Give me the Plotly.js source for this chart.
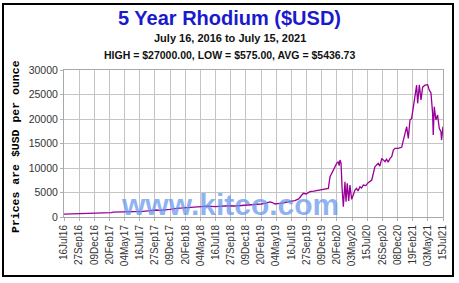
<!DOCTYPE html>
<html>
<head>
<meta charset="utf-8">
<script src="https://cdn.plot.ly/plotly-3.0.1.min.js"></script>
<style>
html,body{margin:0;padding:0;background:#fff;}
#chart{width:459px;height:283px;}
</style>
</head>
<body>
<div id="chart"></div>
<script>
// ---- data ----
const priceDates = [
'2016-07-16','2016-08-10','2016-09-07','2016-10-05','2016-10-25','2016-11-05','2016-11-20','2016-12-03','2016-12-20',
'2017-01-10','2017-02-07','2017-03-01','2017-03-10','2017-04-05','2017-05-14','2017-06-15','2017-07-31','2017-08-25',
'2017-09-20','2017-10-05','2017-10-20','2017-11-05','2017-12-08','2018-01-10','2018-02-10','2018-03-10','2018-04-08',
'2018-05-10','2018-06-10','2018-07-13','2018-08-15','2018-09-15','2018-10-17','2018-11-20','2018-12-20','2019-01-22',
'2019-02-20','2019-03-11','2019-04-04','2019-04-15','2019-04-28','2019-05-20','2019-06-15','2019-07-10','2019-08-02',
'2019-08-20','2019-09-04','2019-09-11','2019-09-25','2019-10-13','2019-11-01','2019-11-15','2019-12-01','2019-12-20',
'2020-01-10','2020-01-18','2020-02-03','2020-02-19','2020-02-27','2020-03-02','2020-03-06','2020-03-11','2020-03-16',
'2020-03-22','2020-03-30','2020-04-04','2020-04-10','2020-04-17','2020-04-23','2020-05-01','2020-05-09','2020-05-17',
'2020-05-25','2020-06-01','2020-06-10','2020-06-18','2020-06-26','2020-07-08','2020-07-20','2020-08-06','2020-08-21',
'2020-09-06','2020-09-14','2020-09-23','2020-10-09','2020-10-16','2020-10-24','2020-11-02','2020-11-10','2020-11-18',
'2020-11-26','2020-12-10','2020-12-28','2021-01-13','2021-01-21','2021-01-29','2021-02-06','2021-02-14','2021-02-22',
'2021-03-02','2021-03-10','2021-03-15','2021-03-23','2021-03-31','2021-04-08','2021-04-19','2021-05-02','2021-05-10',
'2021-05-18','2021-05-26','2021-05-29','2021-06-03','2021-06-11','2021-06-19','2021-06-27','2021-07-05','2021-07-08',
'2021-07-15'
];
const priceValues = [
575,600,610,680,760,700,740,700,760,
800,820,900,1000,1000,1050,1080,1150,1250,
1450,1430,1350,1400,1570,1770,1850,1950,1980,
2050,2200,2100,2250,2300,2240,2350,2400,2450,
2650,2800,3100,2950,2650,2800,2920,3200,3330,
3700,4490,4830,4700,5170,5300,5400,5500,5700,
5850,8220,9590,10950,11290,10500,11630,11000,6000,
2100,7200,3120,6900,3300,6500,3600,4490,5500,
5850,5300,6180,5900,6530,6400,7000,7550,10260,
10950,10400,11970,11300,11800,11200,11970,12300,13670,
14000,14000,14220,17070,18430,16050,19790,20130,22500,
24900,26900,23200,27000,23900,26500,26900,27000,25900,
25300,21150,16730,22500,19790,20800,18090,17400,15700,
18430
];
const tickDates = ['2016-07-16','2016-09-27','2016-12-09','2017-02-20','2017-05-04','2017-07-16','2017-09-27','2017-12-09',
'2018-02-20','2018-05-04','2018-07-16','2018-09-27','2018-12-09','2019-02-20','2019-05-04','2019-07-16','2019-09-27',
'2019-12-09','2020-02-20','2020-05-03','2020-07-15','2020-09-26','2020-12-08','2021-02-19','2021-05-03','2021-07-15'];
const tickLabels = ['16Jul16','27Sep16','09Dec16','20Feb17','04May17','16Jul17','27Sep17','09Dec17','20Feb18','04May18',
'16Jul18','27Sep18','09Dec18','20Feb19','04May19','16Jul19','27Sep19','09Dec19','20Feb20','03May20','15Jul20',
'26Sep20','08Dec20','19Feb21','03May21','15Jul21'];
const yTicks = [0,5000,10000,15000,20000,25000,30000];

const chartTitle = '5 Year Rhodium ($USD)';
const subTitle1 = 'July 16, 2016 to July 15, 2021';
const subTitle2 = 'HIGH = $27000.00, LOW = $575.00, AVG = $5436.73';
const yTitle = 'Prices are $USD per ounce';
const watermark = 'www.kitco.com';

// ---- layout ----
const W = 459, H = 283;
const M = {l:64, r:16, t:70, b:66};
const pw = W - M.l - M.r, ph = H - M.t - M.b;
const cx = (229.5 - M.l) / pw;   // centre of the whole image, in paper units

const trace = {
  x: priceDates, y: priceValues, type: 'scatter', mode: 'lines',
  line: {color: '#990099', width: 1.3}, hoverinfo: 'x+y'
};

const layout = {
  width: W, height: H,
  margin: M,
  paper_bgcolor: '#ffffff', plot_bgcolor: '#ffffff',
  showlegend: false,
  title: {
    text: chartTitle, x: 0.5, xref: 'container', xanchor: 'center',
    y: 1 - 18/H, yref: 'container', yanchor: 'middle',
    font: {family: 'Liberation Sans, Arial, sans-serif', size: 20, color: '#1a1acc', weight: 'bold'}
  },
  xaxis: {
    type: 'date', range: ['2016-07-16','2021-07-15'],
    tickmode: 'array', tickvals: tickDates, ticktext: tickLabels,
    tickangle: -90, ticks: 'outside', ticklen: 3, tickcolor: '#b0b0b0',
    tickfont: {family: 'Liberation Sans, Arial, sans-serif', size: 10, color: '#333333'},
    showgrid: true, gridcolor: '#c4c4c4', gridwidth: 1,
    showline: true, linecolor: '#a8a8a8', linewidth: 1, mirror: true,
    zeroline: false, fixedrange: true
  },
  yaxis: {
    range: [0, 30000], tickmode: 'array', tickvals: yTicks,
    ticktext: yTicks.map(String),
    ticks: 'outside', ticklen: 3, tickcolor: '#b0b0b0',
    tickfont: {family: 'Liberation Sans, Arial, sans-serif', size: 10.5, color: '#333333'},
    showgrid: true, gridcolor: '#c4c4c4', gridwidth: 1,
    showline: true, linecolor: '#a8a8a8', linewidth: 1, mirror: true,
    zeroline: false, fixedrange: true
  },
  annotations: [
    {text: subTitle1, xref: 'paper', yref: 'paper', x: cx, y: 1 + (M.t - 38)/ph,
     xanchor: 'center', yanchor: 'middle', showarrow: false,
     font: {family: 'Liberation Sans, Arial, sans-serif', size: 11, color: '#111111', weight: 'bold'}},
    {text: subTitle2, xref: 'paper', yref: 'paper', x: cx, y: 1 + (M.t - 55)/ph,
     xanchor: 'center', yanchor: 'middle', showarrow: false,
     font: {family: 'Liberation Sans, Arial, sans-serif', size: 10.5, color: '#111111', weight: 'bold'}},
    {text: yTitle, xref: 'paper', yref: 'paper', x: (15 - M.l)/pw, y: 1 - (147 - M.t)/ph,
     xanchor: 'center', yanchor: 'middle', textangle: -90, showarrow: false,
     font: {family: 'Liberation Mono, DejaVu Sans Mono, monospace', size: 11.5, color: '#000000', weight: 'bold'}},
    {text: watermark, xref: 'paper', yref: 'paper', x: (230 - M.l)/pw, y: 0,
     xanchor: 'center', yanchor: 'bottom', yshift: -6, showarrow: false,
     font: {family: 'Liberation Sans, Arial, sans-serif', size: 30, color: 'rgba(100,150,238,0.72)', weight: 'bold'}}
  ],
  shapes: [
    {type: 'rect', xref: 'paper', yref: 'paper',
     x0: (3 - M.l)/pw, x1: (453 - M.l)/pw, y0: 1 - (276 - M.t)/ph, y1: 1 - (4 - M.t)/ph,
     line: {color: '#000000', width: 2}, fillcolor: 'rgba(0,0,0,0)', layer: 'above'}
  ]
};

Plotly.newPlot('chart', [trace], layout, {displayModeBar: false, staticPlot: true});
</script>
</body>
</html>
